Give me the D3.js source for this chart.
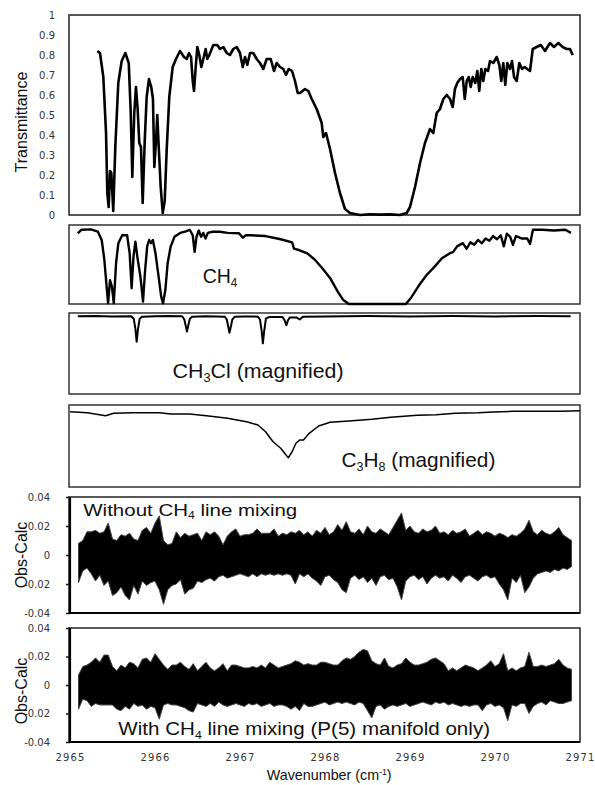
<!DOCTYPE html>
<html>
<head>
<meta charset="utf-8">
<script src="https://cdn.jsdelivr.net/npm/d3@7"></script>
<style>
  body { margin: 0; background: #fff; }
  svg { display: block; }
  .tick text { font-family: "DejaVu Sans", sans-serif; font-size: 10px; fill: #333; }
  .lbl { font-family: "Liberation Sans", Arial, sans-serif; fill: #111; }
</style>
</head>
<body>
<svg id="chart" width="595" height="785"></svg>
<script>
// ---- data ----
var xTicks = [2965, 2966, 2967, 2968, 2969, 2970, 2971];
var transTicks = [0, 0.1, 0.2, 0.3, 0.4, 0.5, 0.6, 0.7, 0.8, 0.9, 1];
var resTicks = [-0.04, -0.02, 0, 0.02, 0.04];

// measured transmittance (top panel)
var obsWn = [2965.321,2965.353,2965.392,2965.424,2965.439,2965.455,2965.471,2965.486,2965.509,2965.533,
  2965.568,2965.608,2965.651,2965.691,2965.714,2965.733,2965.756,2965.776,2965.796,2965.815,
  2965.835,2965.855,2965.879,2965.902,2965.929,2965.956,2965.976,2965.992,2966.012,2966.027,
  2966.044,2966.067,2966.091,2966.114,2966.138,2966.168,2966.208,2966.247,2966.294,2966.341,
  2966.373,2966.400,2966.424,2966.444,2966.459,2966.479,2966.498,2966.521,2966.545,2966.568,
  2966.596,2966.615,2966.639,2966.686,2966.733,2966.765,2966.804,2966.844,2966.882,2966.921,
  2966.961,2967.000,2967.032,2967.059,2967.086,2967.118,2967.156,2967.196,2967.235,2967.274,
  2967.314,2967.361,2967.400,2967.432,2967.471,2967.509,2967.541,2967.573,2967.612,2967.647,
  2967.679,2967.706,2967.765,2967.804,2967.844,2967.902,2967.961,2967.980,2968.012,2968.059,
  2968.118,2968.176,2968.235,2968.294,2968.412,2968.529,2968.647,2968.765,2968.882,2968.961,
  2969.000,2969.059,2969.118,2969.176,2969.235,2969.274,2969.314,2969.353,2969.392,2969.432,
  2969.471,2969.502,2969.529,2969.556,2969.588,2969.620,2969.644,2969.667,2969.691,2969.714,
  2969.738,2969.768,2969.792,2969.815,2969.839,2969.862,2969.886,2969.918,2969.941,2969.980,
  2970.020,2970.051,2970.074,2970.098,2970.121,2970.145,2970.176,2970.200,2970.224,2970.255,
  2970.286,2970.318,2970.349,2970.380,2970.412,2970.444,2970.491,2970.538,2970.588,2970.647,
  2970.694,2970.745,2970.796,2970.844,2970.882,2970.914];
var obsT = [0.82,0.81,0.69,0.41,0.11,0.04,0.22,0.21,0.02,0.34,
  0.66,0.77,0.81,0.76,0.52,0.19,0.51,0.64,0.53,0.36,
  0.34,0.06,0.37,0.59,0.68,0.64,0.58,0.24,0.37,0.50,
  0.34,0.14,0.01,0.07,0.33,0.59,0.74,0.78,0.82,0.79,
  0.78,0.81,0.79,0.67,0.62,0.74,0.84,0.80,0.74,0.78,
  0.83,0.78,0.80,0.85,0.85,0.83,0.84,0.81,0.80,0.83,
  0.84,0.81,0.74,0.79,0.75,0.81,0.81,0.78,0.76,0.73,
  0.78,0.78,0.72,0.76,0.74,0.73,0.70,0.73,0.72,0.67,
  0.61,0.61,0.63,0.62,0.58,0.53,0.46,0.39,0.41,0.33,
  0.21,0.11,0.03,0.01,0.00,0.004,0.002,0.003,0.00,0.01,
  0.04,0.14,0.26,0.36,0.43,0.41,0.51,0.53,0.58,0.60,
  0.58,0.54,0.63,0.66,0.68,0.69,0.58,0.67,0.69,0.64,
  0.69,0.66,0.72,0.62,0.73,0.67,0.73,0.72,0.77,0.76,
  0.79,0.75,0.67,0.76,0.65,0.76,0.73,0.77,0.69,0.67,
  0.76,0.73,0.74,0.73,0.72,0.83,0.84,0.85,0.82,0.86,
  0.84,0.86,0.84,0.83,0.83,0.80];

// CH4 component
var ch4Wn = [2965.092,2965.136,2965.247,2965.328,2965.373,2965.404,2965.431,2965.448,2965.471,2965.493,
  2965.515,2965.542,2965.569,2965.614,2965.672,2965.702,2965.725,2965.747,2965.769,2965.792,
  2965.828,2965.859,2965.881,2965.908,2965.931,2965.953,2965.975,2966.006,2966.042,2966.073,
  2966.095,2966.122,2966.149,2966.185,2966.229,2966.296,2966.364,2966.408,2966.444,2966.466,
  2966.488,2966.515,2966.542,2966.568,2966.595,2966.622,2966.675,2966.765,2966.854,2966.988,
  2967.033,2967.068,2967.122,2967.301,2967.479,2967.613,2967.635,2967.702,2967.792,2967.881,
  2967.971,2968.059,2968.148,2968.215,2968.282,2968.952,2969.019,2969.108,2969.198,2969.287,
  2969.376,2969.465,2969.509,2969.554,2969.621,2969.666,2969.711,2969.755,2969.800,2969.845,
  2969.889,2969.934,2969.979,2970.024,2970.068,2970.104,2970.139,2970.179,2970.211,2970.246,
  2970.313,2970.380,2970.412,2970.447,2970.559,2970.693,2970.827,2970.894];
var ch4T = [0.895,0.94,0.945,0.915,0.81,0.56,0.22,0.01,0.30,0.22,
  0.01,0.52,0.77,0.87,0.87,0.64,0.20,0.60,0.79,0.60,
  0.35,0.03,0.39,0.73,0.81,0.77,0.81,0.64,0.35,0.09,
  0.01,0.18,0.52,0.73,0.85,0.90,0.92,0.94,0.87,0.66,
  0.85,0.93,0.85,0.90,0.83,0.90,0.915,0.915,0.90,0.895,
  0.84,0.87,0.87,0.86,0.82,0.78,0.70,0.68,0.64,0.56,
  0.45,0.33,0.16,0.05,0.0,0.0,0.09,0.24,0.37,0.47,
  0.58,0.64,0.66,0.73,0.77,0.70,0.78,0.75,0.81,0.77,
  0.83,0.80,0.86,0.82,0.87,0.73,0.89,0.85,0.75,0.86,
  0.83,0.83,0.76,0.94,0.94,0.93,0.94,0.90];

// CH3Cl component (magnified)
var ch3clWn = [2965.092,2965.30,2965.50,2965.72,2965.75,2965.77,2965.784,2965.80,2965.82,2965.85,
  2966.00,2966.15,2966.32,2966.345,2966.362,2966.376,2966.392,2966.41,2966.44,2966.60,
  2966.82,2966.845,2966.862,2966.876,2966.892,2966.91,2966.94,2967.05,2967.21,2967.235,
  2967.255,2967.269,2967.285,2967.305,2967.34,2967.50,2967.525,2967.546,2967.565,2967.585,
  2967.665,2967.702,2967.74,2968.00,2968.50,2969.00,2969.50,2970.00,2970.50,2970.89];
var ch3clT = [0.96,0.962,0.958,0.96,0.93,0.80,0.645,0.80,0.93,0.955,
  0.96,0.962,0.96,0.92,0.84,0.77,0.85,0.93,0.955,0.96,
  0.955,0.92,0.83,0.757,0.83,0.92,0.955,0.958,0.955,0.92,
  0.78,0.626,0.78,0.93,0.95,0.95,0.91,0.85,0.91,0.945,
  0.945,0.92,0.955,0.958,0.962,0.958,0.962,0.958,0.962,0.96];

// C3H8 component (magnified)
var c3h8Wn = [2965.002,2965.204,2965.418,2965.515,2965.739,2966.051,2966.185,2966.408,2966.631,2966.854,
  2967.078,2967.212,2967.301,2967.389,2967.479,2967.568,2967.613,2967.658,2967.702,2967.747,
  2967.814,2967.926,2968.059,2968.282,2968.551,2968.773,2969.086,2969.309,2969.532,2969.800,
  2969.979,2970.201,2970.514,2970.782,2971.0];
var c3h8T = [0.918,0.906,0.870,0.899,0.906,0.906,0.890,0.890,0.866,0.838,
  0.796,0.756,0.674,0.552,0.472,0.357,0.430,0.533,0.573,0.573,
  0.655,0.744,0.789,0.805,0.826,0.850,0.874,0.882,0.899,0.906,
  0.915,0.923,0.923,0.923,0.930];

// residual envelopes, sampled every 0.05 cm-1 from 2965.10
var resStart = 2965.10, resStep = 0.05;
var noMixHigh = [0.008,0.010,0.016,0.016,0.017,0.015,0.016,0.022,0.011,0.010,
  0.014,0.013,0.015,0.011,0.010,0.017,0.019,0.015,0.022,0.027,
  0.010,0.007,0.008,0.016,0.012,0.015,0.013,0.014,0.015,0.010,
  0.016,0.014,0.016,0.013,0.007,0.013,0.016,0.018,0.013,0.014,
  0.014,0.015,0.018,0.015,0.015,0.015,0.018,0.013,0.015,0.014,
  0.016,0.015,0.017,0.014,0.016,0.013,0.017,0.015,0.019,0.014,
  0.016,0.021,0.017,0.023,0.016,0.015,0.018,0.014,0.020,0.016,
  0.015,0.018,0.016,0.014,0.019,0.024,0.029,0.017,0.020,0.016,
  0.015,0.018,0.016,0.017,0.020,0.015,0.016,0.014,0.017,0.015,
  0.016,0.018,0.013,0.015,0.017,0.014,0.016,0.015,0.013,0.015,
  0.014,0.012,0.014,0.013,0.015,0.018,0.024,0.016,0.014,0.017,
  0.015,0.014,0.016,0.019,0.014,0.012,0.010];
var noMixLow = [-0.019,-0.011,-0.009,-0.013,-0.018,-0.014,-0.021,-0.018,-0.028,-0.026,
  -0.022,-0.028,-0.031,-0.021,-0.027,-0.018,-0.021,-0.019,-0.018,-0.024,
  -0.034,-0.024,-0.021,-0.020,-0.017,-0.027,-0.024,-0.023,-0.018,-0.019,
  -0.017,-0.016,-0.018,-0.015,-0.014,-0.016,-0.015,-0.014,-0.013,-0.014,
  -0.015,-0.013,-0.015,-0.013,-0.014,-0.013,-0.014,-0.013,-0.014,-0.013,
  -0.014,-0.020,-0.013,-0.015,-0.013,-0.016,-0.018,-0.021,-0.015,-0.014,
  -0.017,-0.019,-0.024,-0.026,-0.016,-0.014,-0.017,-0.015,-0.019,-0.016,
  -0.021,-0.015,-0.014,-0.017,-0.016,-0.022,-0.031,-0.018,-0.015,-0.014,
  -0.017,-0.015,-0.020,-0.016,-0.014,-0.016,-0.015,-0.018,-0.014,-0.016,
  -0.019,-0.015,-0.014,-0.016,-0.018,-0.015,-0.014,-0.016,-0.015,-0.020,
  -0.024,-0.031,-0.016,-0.019,-0.014,-0.026,-0.022,-0.016,-0.013,-0.012,
  -0.011,-0.012,-0.010,-0.011,-0.009,-0.010,-0.008];
var mixHigh = [0.007,0.013,0.014,0.016,0.019,0.016,0.021,0.021,0.013,0.010,
  0.014,0.012,0.016,0.015,0.012,0.018,0.019,0.016,0.022,0.018,
  0.014,0.011,0.014,0.014,0.016,0.013,0.011,0.015,0.010,0.013,
  0.016,0.012,0.010,0.012,0.015,0.010,0.014,0.014,0.013,0.012,
  0.012,0.013,0.012,0.014,0.012,0.016,0.014,0.012,0.013,0.014,
  0.015,0.017,0.016,0.014,0.015,0.014,0.014,0.016,0.016,0.015,
  0.014,0.014,0.017,0.019,0.018,0.020,0.023,0.025,0.024,0.017,
  0.015,0.014,0.019,0.013,0.012,0.014,0.015,0.019,0.016,0.014,
  0.014,0.015,0.016,0.018,0.019,0.017,0.015,0.010,0.012,0.010,
  0.012,0.014,0.013,0.012,0.010,0.012,0.014,0.017,0.013,0.015,
  0.022,0.010,0.012,0.010,0.012,0.013,0.023,0.013,0.013,0.014,
  0.013,0.014,0.015,0.018,0.014,0.012,0.011];
var mixLow = [-0.017,-0.010,-0.011,-0.015,-0.013,-0.014,-0.014,-0.014,-0.014,-0.017,
  -0.018,-0.015,-0.017,-0.013,-0.015,-0.014,-0.017,-0.015,-0.016,-0.024,
  -0.014,-0.013,-0.014,-0.014,-0.015,-0.016,-0.018,-0.019,-0.013,-0.014,
  -0.015,-0.013,-0.015,-0.012,-0.014,-0.015,-0.014,-0.013,-0.014,-0.015,
  -0.013,-0.014,-0.013,-0.015,-0.014,-0.013,-0.015,-0.014,-0.014,-0.015,
  -0.017,-0.015,-0.018,-0.013,-0.015,-0.015,-0.014,-0.013,-0.012,-0.014,
  -0.013,-0.012,-0.013,-0.012,-0.013,-0.014,-0.012,-0.013,-0.018,-0.023,
  -0.015,-0.014,-0.017,-0.015,-0.014,-0.015,-0.014,-0.013,-0.015,-0.014,
  -0.013,-0.012,-0.013,-0.014,-0.012,-0.013,-0.012,-0.014,-0.013,-0.014,
  -0.015,-0.014,-0.015,-0.014,-0.014,-0.018,-0.014,-0.013,-0.015,-0.014,
  -0.016,-0.025,-0.014,-0.015,-0.013,-0.013,-0.020,-0.015,-0.013,-0.012,
  -0.014,-0.011,-0.012,-0.013,-0.013,-0.012,-0.011];

// ---- layout ----
var svg = d3.select("#chart");
var x = d3.scaleLinear().domain([2965, 2971]).range([70, 580]);

var panels = {
    obs:   {top: 15,  bottom: 215},
    ch4:   {top: 225, bottom: 304},
    ch3cl: {top: 313, bottom: 394},
    c3h8:  {top: 405, bottom: 487},
    res1:  {top: 497, bottom: 613},
    res2:  {top: 628, bottom: 742}
};

function yScale(p, domain) {
    return d3.scaleLinear().domain(domain).range([p.bottom, p.top]);
}

function frame(p, stroke, width) {
    svg.append("rect")
        .attr("x", x(2965) - 1).attr("y", p.top)
        .attr("width", x(2971) - x(2965) + 1).attr("height", p.bottom - p.top)
        .attr("fill", "none").attr("stroke", stroke).attr("stroke-width", width);
}

function spectrum(wn, vals, y, width) {
    var pts = wn.map(function (w, i) { return [w, vals[i]]; });
    svg.append("path")
        .datum(pts)
        .attr("fill", "none")
        .attr("stroke", "#000")
        .attr("stroke-width", width)
        .attr("stroke-linejoin", "round")
        .attr("d", d3.line().x(function (d) { return x(d[0]); }).y(function (d) { return y(d[1]); }));
}

function residual(high, low, y) {
    var pts = high.map(function (h, i) { return {w: resStart + i * resStep, h: h, l: low[i]}; });
    svg.append("path")
        .datum(pts)
        .attr("fill", "#000")
        .attr("stroke", "#444")
        .attr("stroke-width", 1)
        .attr("stroke-linejoin", "round")
        .attr("d", d3.area()
            .x(function (d) { return x(d.w); })
            .y0(function (d) { return y(d.l); })
            .y1(function (d) { return y(d.h); }));
}

// text with optional sub/superscript parts, squeezed to a measured width
function label(px, py, parts, size, width) {
    var t = svg.append("text").attr("class", "lbl").attr("font-size", size);
    var shift = 0;
    parts.forEach(function (p) {
        var ts = t.append("tspan").text(p.t);
        var want = p.sub ? size * 0.22 : (p.sup ? -size * 0.38 : 0);
        ts.attr("dy", want - shift);
        if (p.sub || p.sup) ts.attr("font-size", size * 0.6);
        shift = want;
    });
    var w = t.node().getBBox().width;
    t.attr("transform", "translate(" + px + "," + py + ") scale(" + (width / w) + ",1)");
}

// ---- top panel: observed transmittance ----
var yObs = yScale(panels.obs, [0, 1]);
svg.append("g")
    .attr("transform", "translate(70,0)")
    .call(d3.axisLeft(yObs).tickValues(transTicks).tickSize(0).tickPadding(15)
        .tickFormat(function (d) { return String(+d.toFixed(1)); }))
    .call(function (g) { g.select(".domain").remove(); });
frame(panels.obs, "#222", 1.5);
spectrum(obsWn, obsT, yObs, 2.6);

svg.append("text").attr("class", "lbl").attr("font-size", 16)
    .attr("text-anchor", "middle")
    .attr("transform", "translate(27,122) rotate(-90)")
    .text("Transmittance");

// ---- component panels ----
var yCh4 = yScale(panels.ch4, [0, 1]);
frame(panels.ch4, "#333", 1.5);
spectrum(ch4Wn, ch4T, yCh4, 2.4);
label(202.7, 283, [{t: "CH"}, {t: "4", sub: true}], 20, 35);

var yCh3cl = yScale(panels.ch3cl, [0, 1]);
frame(panels.ch3cl, "#333", 1.5);
spectrum(ch3clWn, ch3clT, yCh3cl, 2);
label(172.6, 378, [{t: "CH"}, {t: "3", sub: true}, {t: "Cl (magnified)"}], 20, 171);

var yC3h8 = yScale(panels.c3h8, [0, 1]);
frame(panels.c3h8, "#333", 1.5);
spectrum(c3h8Wn, c3h8T, yC3h8, 1.5);
label(341.4, 467, [{t: "C"}, {t: "3", sub: true}, {t: "H"}, {t: "8", sub: true}, {t: " (magnified)"}], 20, 154);

// ---- residual panels ----
function resAxis(p) {
    var y = yScale(p, [-0.04, 0.04]);
    svg.append("g")
        .attr("transform", "translate(70,0)")
        .call(d3.axisLeft(y).tickValues(resTicks).tickSize(4).tickPadding(16)
            .tickFormat(function (d) { return d === 0 ? "0" : d.toFixed(2); }))
        .call(function (g) {
            g.select(".domain").remove();
            g.selectAll(".tick line").attr("stroke", "#111").attr("stroke-width", 1.5);
        });
    frame(p, "#222", 1.5);
    svg.append("line").attr("x1", 70).attr("x2", 70).attr("y1", p.top).attr("y2", p.bottom + 1)
        .attr("stroke", "#000").attr("stroke-width", 2.2);
    svg.append("line").attr("x1", 69).attr("x2", 580).attr("y1", p.bottom).attr("y2", p.bottom)
        .attr("stroke", "#000").attr("stroke-width", 2.2);
    return y;
}

var yRes1 = resAxis(panels.res1);
residual(noMixHigh, noMixLow, yRes1);
label(83.3, 515.5, [{t: "Without CH"}, {t: "4", sub: true}, {t: " line mixing"}], 17, 214);

var yRes2 = resAxis(panels.res2);
residual(mixHigh, mixLow, yRes2);
label(118.3, 735, [{t: "With CH"}, {t: "4", sub: true}, {t: " line mixing (P(5) manifold only)"}], 18, 372);

[["Obs-Calc", 555], ["Obs-Calc", 691]].forEach(function (d) {
    svg.append("text").attr("class", "lbl").attr("font-size", 16)
        .attr("text-anchor", "middle")
        .attr("transform", "translate(27," + d[1] + ") rotate(-90)")
        .text(d[0]);
});

// ---- x axis ----
svg.append("g")
    .attr("transform", "translate(0," + panels.res2.bottom + ")")
    .call(d3.axisBottom(x).tickValues(xTicks).tickSize(0).tickPadding(12).tickFormat(d3.format("d")))
    .call(function (g) {
        g.select(".domain").remove();
        g.selectAll(".tick text").attr("letter-spacing", "1.2px");
    });

label(266.7, 780, [{t: "Wavenumber (cm"}, {t: "-1", sup: true}, {t: ")"}], 14, 125);
</script>
</body>
</html>
